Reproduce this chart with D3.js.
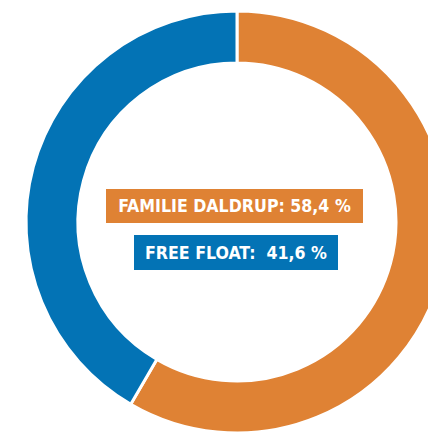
<!DOCTYPE html>
<html>
<head>
<meta charset="utf-8">
<script src="https://cdn.jsdelivr.net/npm/d3@7"></script>
<style>
  html, body { margin: 0; padding: 0; background: #fff; overflow: hidden; }
</style>
</head>
<body>
<div id="chart"></div>
<script>
// Shareholder structure
const categories = ['FAMILIE DALDRUP', 'FREE FLOAT'];
const shares = [58.4, 41.6];
const labels = ['FAMILIE DALDRUP: 58,4 %', 'FREE FLOAT:\u00a0 41,6 %'];
const colors = ['#df8234', '#0373b5'];

const width = 428, height = 435;
const cx = 237, cy = 222;
const outerR = 211, innerR = 159;

const svg = d3.select('#chart')
  .append('svg')
  .attr('width', width)
  .attr('height', height);

const color = d3.scaleOrdinal().domain(categories).range(colors);

const pie = d3.pie().sort(null).value(d => d.value);
const arc = d3.arc().innerRadius(innerR).outerRadius(outerR);

const data = categories.map((c, i) => ({ name: c, value: shares[i] }));

const g = svg.append('g').attr('transform', `translate(${cx},${cy})`);

g.selectAll('path')
  .data(pie(data))
  .join('path')
  .attr('d', arc)
  .attr('fill', d => color(d.data.name))
  .attr('stroke', '#fff')
  .attr('stroke-width', 3);

// Label boxes in the centre
const boxes = [
  { x: 106, y: 189, w: 257, h: 34 },
  { x: 134, y: 235, w: 204, h: 35 }
];

const lg = svg.append('g');
labels.forEach((t, i) => {
  const b = boxes[i];
  lg.append('rect')
    .attr('x', b.x).attr('y', b.y)
    .attr('width', b.w).attr('height', b.h)
    .attr('fill', colors[i]);
  lg.append('text')
    .attr('x', b.x + b.w / 2)
    .attr('y', b.y + b.h / 2)
    .attr('dy', '0.36em')
    .attr('text-anchor', 'middle')
    .attr('fill', '#fff')
    .style('font-family', '"DejaVu Sans Condensed", "DejaVu Sans", sans-serif')
    .style('font-stretch', 'condensed')
    .style('font-weight', 'bold')
    .style('font-size', '17.6px')
    .text(t);
});
</script>
</body>
</html>
